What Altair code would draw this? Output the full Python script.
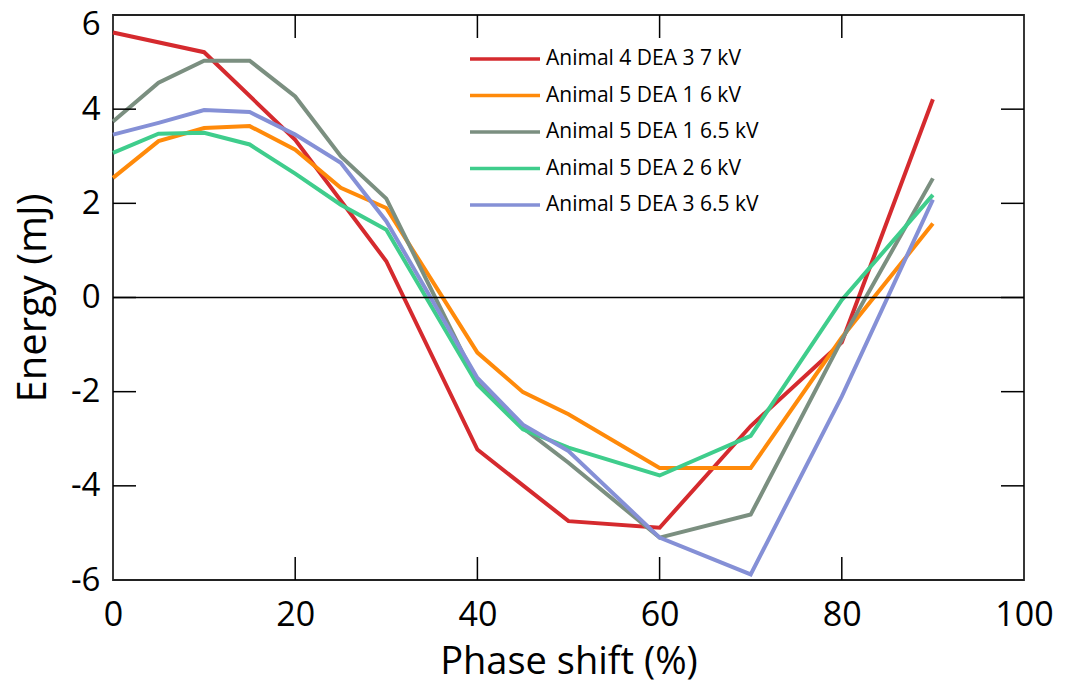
import altair as alt
import pandas as pd

series_names = [
    "Animal 4 DEA 3 7 kV",
    "Animal 5 DEA 1 6 kV",
    "Animal 5 DEA 1 6.5 kV",
    "Animal 5 DEA 2 6 kV",
    "Animal 5 DEA 3 6.5 kV",
]
series_colors = ["#d52a2e", "#ff8a0a", "#7b8f80", "#3fcd8c", "#8590d6"]

phase_red = [0, 10, 20, 30, 40, 50, 60, 70, 80, 90]
energy_red = [5.63, 5.21, 3.35, 0.77, -3.23, -4.75, -4.89, -2.73, -0.95, 4.21]

phase_common = [0, 5, 10, 15, 20, 25, 30, 40, 45, 50, 60, 70, 80, 90]
energy_orange = [2.54, 3.32, 3.60, 3.64, 3.14, 2.33, 1.90, -1.17, -2.01, -2.48, -3.62, -3.62, -0.85, 1.57]
energy_gray = [3.74, 4.56, 5.03, 5.03, 4.27, 3.00, 2.10, -1.81, -2.77, -3.51, -5.10, -4.61, -0.90, 2.53]
energy_green = [3.07, 3.48, 3.50, 3.25, 2.63, 1.97, 1.44, -1.85, -2.80, -3.19, -3.78, -2.94, -0.05, 2.18]
energy_blue = [3.46, 3.71, 3.98, 3.94, 3.46, 2.86, 1.62, -1.71, -2.70, -3.26, -5.10, -5.88, -2.10, 2.08]

x_ticks = [0, 20, 40, 60, 80, 100]
y_ticks = [-6, -4, -2, 0, 2, 4, 6]

rows = []
for p, e in zip(phase_red, energy_red):
    rows.append({"series": series_names[0], "phase": p, "energy": e})
for name, vals in zip(series_names[1:], [energy_orange, energy_gray, energy_green, energy_blue]):
    for p, e in zip(phase_common, vals):
        rows.append({"series": name, "phase": p, "energy": e})
df = pd.DataFrame(rows)

W, H = 911, 565
TICK = 23
XT = "Phase shift (%)"
YT = "Energy (mJ)"
FONT = "Open Sans"

x_scale = alt.Scale(domain=[0, 100], nice=False, zero=False)
y_scale = alt.Scale(domain=[-6, 6], nice=False, zero=False)

x_axis = alt.Axis(values=x_ticks, title=XT, labelFontSize=34, labelFont=FONT,
                  labelFlush=False, labelPadding=18, labelExpr="'' + datum.value",
                  titleFontSize=38, titleFont=FONT, titleFontWeight="normal",
                  titlePadding=11, labelColor="black", titleColor="black")
y_axis = alt.Axis(values=y_ticks, title=YT, labelFontSize=33, labelFont=FONT,
                  labelFlush=False, labelPadding=13, labelExpr="'' + datum.value",
                  labelOffset={"condition": {"test": "datum.value == 6", "value": 9}, "value": 0},
                  titleFontSize=40, titleFont=FONT, titleFontWeight="normal",
                  titlePadding=17, labelColor="black", titleColor="black")

lines = alt.Chart(df).mark_line(strokeWidth=4).encode(
    x=alt.X("phase:Q", scale=x_scale, axis=x_axis),
    y=alt.Y("energy:Q", scale=y_scale, axis=y_axis),
    color=alt.Color(
        "series:N",
        sort=series_names,
        scale=alt.Scale(domain=series_names, range=series_colors),
        legend=alt.Legend(
            orient="none", legendX=355, legendY=31, title=None,
            symbolType="stroke", symbolSize=4900, symbolStrokeWidth=3.5,
            clipHeight=26, rowPadding=10.5,
            labelFontSize=21, labelFont=FONT, labelColor="black",
            labelOffset=4, labelLimit=400,
        ),
    ),
)

zero_df = pd.DataFrame({"v": [0]})
zero_line = alt.Chart(zero_df).mark_rule(color="black", strokeWidth=1.5).encode(
    y=alt.Y("v:Q", scale=y_scale, title=YT),
)

xt_df = pd.DataFrame({"v": x_ticks[1:-1]})
yt_df = pd.DataFrame({"v": y_ticks[1:-1]})
tick_style = dict(color="black", strokeWidth=1.5)

x_bottom = alt.Chart(xt_df).mark_rule(**tick_style).encode(
    x=alt.X("v:Q", scale=x_scale, title=XT), y=alt.value(H), y2=alt.value(H - TICK))
x_top = alt.Chart(xt_df).mark_rule(**tick_style).encode(
    x=alt.X("v:Q", scale=x_scale, title=XT), y=alt.value(0), y2=alt.value(TICK))
y_left = alt.Chart(yt_df).mark_rule(**tick_style).encode(
    y=alt.Y("v:Q", scale=y_scale, title=YT), x=alt.value(0), x2=alt.value(TICK))
y_right = alt.Chart(yt_df).mark_rule(**tick_style).encode(
    y=alt.Y("v:Q", scale=y_scale, title=YT), x=alt.value(W), x2=alt.value(W - TICK))

chart = alt.layer(lines, zero_line, x_bottom, x_top, y_left, y_right).properties(
    width=W, height=H,
    autosize=alt.AutoSizeParams(type="none"),
    padding={"left": 113, "top": 15, "right": 41, "bottom": 116},
    background="white",
).configure_view(
    stroke="#222222", strokeWidth=1.8,
).configure_axis(
    domain=False, ticks=False, grid=False,
)

chart.save("out.html", embed_options={"renderer": "svg", "actions": False})
